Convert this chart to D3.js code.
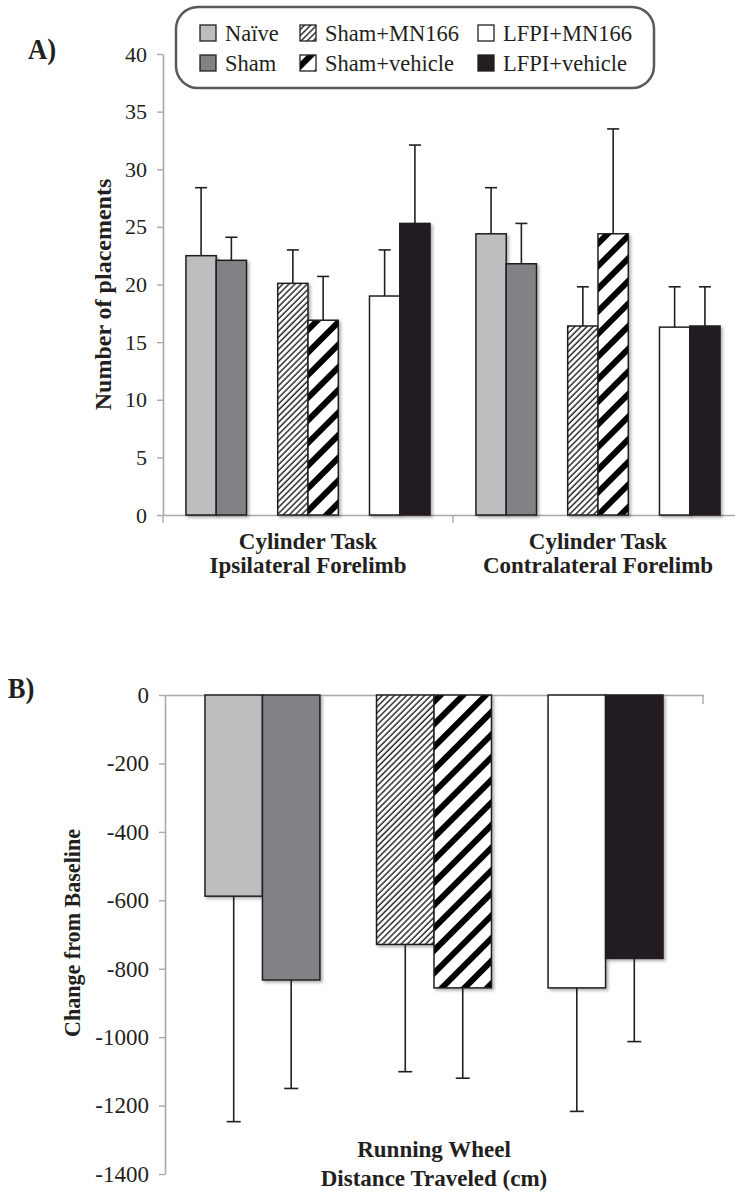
<!DOCTYPE html>
<html>
<head>
<meta charset="utf-8">
<script src="https://cdn.jsdelivr.net/npm/d3@7/dist/d3.min.js"></script>
<style>
  html, body { margin: 0; padding: 0; background: #fff; }
  svg { display: block; }
</style>
</head>
<body>
<script>
// ---- data ----
const groups = ["Naïve", "Sham", "Sham+MN166", "Sham+vehicle", "LFPI+MN166", "LFPI+vehicle"];
const cylinderTasks = [
  ["Cylinder Task", "Ipsilateral Forelimb"],
  ["Cylinder Task", "Contralateral Forelimb"]
];
const ipsiMean = [22.5, 22.1, 20.1, 16.9, 19.0, 25.3];
const ipsiErr  = [5.9, 2.0, 2.9, 3.8, 4.0, 6.8];
const contraMean = [24.4, 21.8, 16.4, 24.4, 16.3, 16.4];
const contraErr  = [4.0, 3.5, 3.4, 9.1, 3.5, 3.4];
const placementTicks = [0, 5, 10, 15, 20, 25, 30, 35, 40];

const wheelTask = ["Running Wheel", "Distance Traveled (cm)"];
const wheelMean = [-588, -833, -729, -856, -856, -770];
const wheelErr  = [659, 317, 372, 264, 361, 243];
const wheelTicks = [0, -200, -400, -600, -800, -1000, -1200, -1400];

const W = 735, H = 1194;
const FONT = '"Liberation Serif", Tinos, "Times New Roman", Times, "DejaVu Serif", serif';
const ink = "#231f20", axisGrey = "#a7a9ac";
const fills = {
  "Naïve": "#bcbec0",
  "Sham": "#808285",
  "Sham+MN166": "url(#hatchThin)",
  "Sham+vehicle": "url(#hatchThick)",
  "LFPI+MN166": "#ffffff",
  "LFPI+vehicle": "#231f20"
};

const svg = d3.select("body").append("svg").attr("width", W).attr("height", H);
const defs = svg.append("defs");

// fine diagonal hatching
const thin = defs.append("pattern").attr("id", "hatchThin")
  .attr("patternUnits", "userSpaceOnUse").attr("width", 4.3).attr("height", 4.3)
  .attr("patternTransform", "rotate(45)");
thin.append("rect").attr("width", 4.3).attr("height", 4.3).attr("fill", "#fff");
thin.append("line").attr("x1", 1).attr("x2", 1).attr("y1", 0).attr("y2", 4.3)
  .attr("stroke", ink).attr("stroke-width", 1.4);

// bold diagonal stripes
const thick = defs.append("pattern").attr("id", "hatchThick")
  .attr("patternUnits", "userSpaceOnUse").attr("width", 16).attr("height", 16)
  .attr("patternTransform", "rotate(45)");
thick.append("rect").attr("width", 16).attr("height", 16).attr("fill", "#fff");
thick.append("rect").attr("x", 0).attr("y", 0).attr("width", 6).attr("height", 16).attr("fill", "#000");

const shadow = defs.append("filter").attr("id", "shadow")
  .attr("x", "-20%").attr("y", "-20%").attr("width", "150%").attr("height", "150%");
shadow.append("feDropShadow").attr("dx", 2).attr("dy", 2).attr("stdDeviation", 1.6)
  .attr("flood-color", "#000").attr("flood-opacity", 0.3);

// text helper (optional horizontal condensing)
function txt(g, x, y, s, o = {}) {
  const sx = o.sx ?? 1;
  return g.append("text")
    .attr("transform", `translate(${x},${y})${o.rotate ? ` rotate(${o.rotate})` : ""} scale(${sx},1)`)
    .attr("text-anchor", o.anchor || "middle")
    .style("font-family", FONT)
    .style("font-size", (o.size || 22) + "px")
    .style("font-weight", o.bold ? "bold" : "normal")
    .style("fill", ink)
    .text(s);
}

function styleAxis(g, size) {
  g.attr("font-family", null).attr("font-size", null);
  g.select(".domain").attr("stroke", axisGrey).attr("stroke-width", 1.6);
  g.selectAll(".tick line").attr("stroke", axisGrey).attr("stroke-width", 1.4);
  g.selectAll(".tick text")
    .style("font-family", FONT)
    .style("font-size", size + "px")
    .style("fill", ink)
    .attr("x", -16);
}

// ================= Panel A =================
const A = { left: 163, right: 743, top: 54, bottom: 515 };
const yA = d3.scaleLinear().domain([0, 40]).range([A.bottom, A.top]);
const xTask = d3.scaleBand().domain(d3.range(cylinderTasks.length)).range([A.left, A.right]);
const xPair = d3.scaleBand().domain([0, 1, 2]).range([0, xTask.bandwidth()])
  .paddingInner(0.34).paddingOuter(0.25);
const barWA = xPair.bandwidth() / 2;

const gA = svg.append("g");
txt(gA, 42, 59, "A)", { size: 29, bold: true, sx: 0.92 });

const yAxisA = gA.append("g").attr("transform", `translate(${A.left},0)`)
  .call(d3.axisLeft(yA).tickValues(placementTicks).tickSize(6).tickSizeOuter(0).tickPadding(10));
styleAxis(yAxisA, 22);

// baseline with category dividers
const xAxisA = gA.append("g").attr("transform", `translate(0,${A.bottom})`)
  .call(d3.axisBottom(xTask).tickValues([]).tickSizeOuter(0));
xAxisA.select(".domain").attr("stroke", axisGrey).attr("stroke-width", 1.6);
[0, 1].forEach(i => {
  gA.append("line").attr("x1", xTask(i)).attr("x2", xTask(i))
    .attr("y1", A.bottom).attr("y2", A.bottom + 8)
    .attr("stroke", axisGrey).attr("stroke-width", 1.4);
});

txt(gA, 111, (A.top + A.bottom) / 2 + 10, "Number of placements", { size: 24, bold: true, rotate: -90 });

const taskData = [
  { mean: ipsiMean, err: ipsiErr },
  { mean: contraMean, err: contraErr }
];
taskData.forEach((t, ti) => {
  const rows = groups.map((gname, i) => ({ gname, i, v: t.mean[i], e: t.err[i] }));
  const bx = d => xTask(ti) + xPair(Math.floor(d.i / 2)) + (d.i % 2) * barWA;
  const gg = gA.append("g");
  gg.selectAll("rect").data(rows).join("rect")
    .attr("x", bx).attr("y", d => yA(d.v))
    .attr("width", barWA).attr("height", d => yA(0) - yA(d.v))
    .attr("fill", d => fills[d.gname])
    .attr("stroke", ink).attr("stroke-width", 1.5)
    .attr("filter", "url(#shadow)");
  const eg = gA.append("g").attr("stroke", ink).attr("stroke-width", 1.6);
  eg.selectAll("line.stem").data(rows).join("line").attr("class", "stem")
    .attr("x1", d => bx(d) + barWA / 2).attr("x2", d => bx(d) + barWA / 2)
    .attr("y1", d => yA(d.v)).attr("y2", d => yA(d.v + d.e));
  eg.selectAll("line.cap").data(rows).join("line").attr("class", "cap")
    .attr("x1", d => bx(d) + barWA / 2 - 6).attr("x2", d => bx(d) + barWA / 2 + 6)
    .attr("y1", d => yA(d.v + d.e)).attr("y2", d => yA(d.v + d.e));
  const cx = xTask(ti) + xTask.bandwidth() / 2;
  txt(gA, cx, 549, cylinderTasks[ti][0], { size: 23, bold: true });
  txt(gA, cx, 573, cylinderTasks[ti][1], { size: 23, bold: true });
});

// legend
const lg = svg.append("g");
lg.append("rect").attr("x", 176).attr("y", 7).attr("width", 478).attr("height", 81)
  .attr("rx", 22).attr("ry", 22).attr("fill", "#fff")
  .attr("stroke", "#58595b").attr("stroke-width", 2.5);
const legCols = [200, 300, 478];
const legRows = [25, 55];
groups.forEach((gname, i) => {
  const c = Math.floor(i / 2), r = i % 2;
  const x = legCols[c], y = legRows[r];
  lg.append("rect").attr("x", x).attr("y", y).attr("width", 16).attr("height", 16)
    .attr("fill", fills[gname]).attr("stroke", ink).attr("stroke-width", 1.3);
  txt(lg, x + 25, y + 16, gname, { size: 22.5, anchor: "start" });
});

// ================= Panel B =================
const B = { left: 165, right: 703, top: 695, bottom: 1174 };
const yB = d3.scaleLinear().domain([-1400, 0]).range([B.bottom, B.top]);
const xPairB = d3.scaleBand().domain([0, 1, 2]).range([B.left, B.right])
  .paddingInner(0.33).paddingOuter(0.233);
const barWB = xPairB.bandwidth() / 2;

const gB = svg.append("g");
txt(gB, 21, 698, "B)", { size: 29, bold: true, sx: 0.92 });

const yAxisB = gB.append("g").attr("transform", `translate(${B.left},0)`)
  .call(d3.axisLeft(yB).tickValues(wheelTicks).tickSize(6).tickSizeOuter(0).tickPadding(10)
    .tickFormat(d => String(d)));
styleAxis(yAxisB, 23);

const xAxisB = gB.append("g").attr("transform", `translate(0,${B.top})`)
  .call(d3.axisBottom(d3.scaleLinear().range([B.left, B.right])).tickValues([]).tickSizeOuter(0));
xAxisB.select(".domain").attr("stroke", axisGrey).attr("stroke-width", 1.6);
gB.append("line").attr("x1", B.right).attr("x2", B.right)
  .attr("y1", B.top).attr("y2", B.top + 9).attr("stroke", axisGrey).attr("stroke-width", 1.4);

txt(gB, 80, 933, "Change from Baseline", { size: 24, bold: true, rotate: -90, sx: 0.92 });

const rowsB = groups.map((gname, i) => ({ gname, i, v: wheelMean[i], e: wheelErr[i] }));
const bxB = d => xPairB(Math.floor(d.i / 2)) + (d.i % 2) * barWB;
gB.append("g").selectAll("rect").data(rowsB).join("rect")
  .attr("x", bxB).attr("y", yB(0))
  .attr("width", barWB).attr("height", d => yB(d.v) - yB(0))
  .attr("fill", d => fills[d.gname])
  .attr("stroke", ink).attr("stroke-width", 1.5)
  .attr("filter", "url(#shadow)");
const ebB = gB.append("g").attr("stroke", ink).attr("stroke-width", 1.6);
ebB.selectAll("line.stem").data(rowsB).join("line").attr("class", "stem")
  .attr("x1", d => bxB(d) + barWB / 2).attr("x2", d => bxB(d) + barWB / 2)
  .attr("y1", d => yB(d.v)).attr("y2", d => yB(d.v - d.e));
ebB.selectAll("line.cap").data(rowsB).join("line").attr("class", "cap")
  .attr("x1", d => bxB(d) + barWB / 2 - 7).attr("x2", d => bxB(d) + barWB / 2 + 7)
  .attr("y1", d => yB(d.v - d.e)).attr("y2", d => yB(d.v - d.e));

const cxB = (B.left + B.right) / 2;
txt(gB, cxB, 1157, wheelTask[0], { size: 23, bold: true });
txt(gB, cxB, 1186, wheelTask[1], { size: 23, bold: true });
</script>
</body>
</html>
